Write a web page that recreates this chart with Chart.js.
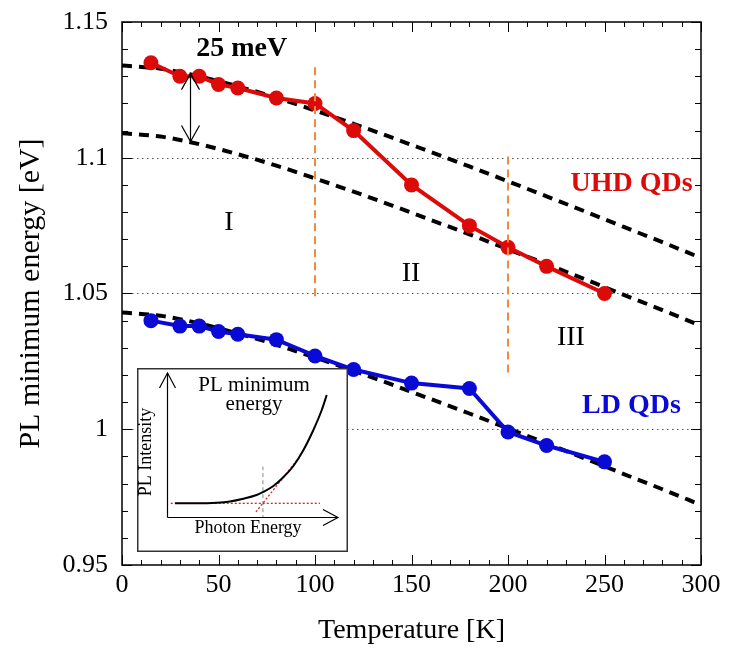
<!DOCTYPE html>
<html>
<head>
<meta charset="utf-8">
<script src="https://cdn.jsdelivr.net/npm/chart.js@4.4.0/dist/chart.umd.min.js"></script>
<style>
html, body { margin: 0; padding: 0; background: #fff; }
#wrap { position: relative; width: 729px; height: 649px; }
#main { position: absolute; left: 0; top: 0; }
#inset { position: absolute; left: 137px; top: 368px; }
</style>
</head>
<body>
<div id="wrap">
  <canvas id="main" width="729" height="649"></canvas>
  <canvas id="inset" width="211" height="184"></canvas>
</div>
<script>
// measured PL minimum energy (eV) vs temperature (K)
const temps = [15, 30, 40, 50, 60, 80, 100, 120, 150, 180, 200, 220, 250];
const uhdEnergy = [1.135, 1.130, 1.130, 1.127, 1.1257, 1.122, 1.120, 1.110, 1.090, 1.075, 1.067, 1.060, 1.050];
const ldEnergy = [1.040, 1.038, 1.038, 1.036, 1.035, 1.033, 1.027, 1.022, 1.017, 1.015, 0.999, 0.994, 0.988];

// Varshni fit curves, sampled every 20 K
const fitTemps = [0, 20, 40, 60, 80, 100, 120, 140, 160, 180, 200, 220, 240, 260, 280, 300];
const fitUpper = [1.134, 1.1328, 1.1300, 1.1263, 1.1221, 1.1174, 1.1125, 1.1074, 1.1021, 1.0968, 1.0913, 1.0858, 1.0802, 1.0745, 1.0689, 1.0631];
const fitLower = [1.109, 1.1078, 1.1050, 1.1013, 1.0971, 1.0924, 1.0875, 1.0824, 1.0771, 1.0718, 1.0663, 1.0608, 1.0552, 1.0495, 1.0439, 1.0381];
const fitLd = [1.043, 1.0418, 1.0390, 1.0353, 1.0311, 1.0264, 1.0215, 1.0164, 1.0111, 1.0058, 1.0003, 0.9948, 0.9892, 0.9835, 0.9779, 0.9721];

// region boundaries (orange dashed)
const regionTemps = [100, 200];
const regionTop = [1.1333, 1.1005];
const regionBottom = [1.048, 1.020];
const regionNames = ['I', 'II', 'III'];
const regionLabelT = [55.4, 149.8, 232.6];
const regionLabelE = [1.0762, 1.0574, 1.0339];

// 25 meV offset arrow
const gapTemp = 35;
const gapTop = 1.131;
const gapBottom = 1.106;

const gridLevels = [1.1, 1.05, 1.0];

// inset: sketch of the PL spectrum (arbitrary units)
const insetEnergy = [0.47, 1.74, 2.91, 3.68, 4.46, 5.24, 5.63, 6.22, 6.8, 7.39, 7.98, 8.56, 9.05, 9.34];
const insetIntensity = [0.95, 0.95, 0.99, 1.08, 1.27, 1.53, 1.74, 2.15, 2.76, 3.54, 4.65, 6.04, 7.43, 8.47];
const baseX = [0.22, 8.95];
const baseY = [0.95, 0.95];
const tangentX = [5.2, 7.6];
const tangentY = [0.35, 3.95];
const onsetX = [5.61, 5.61];
const onsetY = [-0.15, 3.5];

const serif = '"Liberation Serif", "Times New Roman", serif';
const red = '#dd0a0a';
const blue = '#0a0ad6';
const orange = '#f08a3c';

function pts(xs, ys) {
  return xs.map((x, i) => ({ x: x, y: ys[i] }));
}

function fitSet(label, ys) {
  return {
    label: label, data: pts(fitTemps, ys),
    borderColor: '#000', borderWidth: 4, borderDash: [10, 7],
    pointRadius: 0, cubicInterpolationMode: 'monotone', order: 3
  };
}

function regionSet(i) {
  return {
    label: 'boundary ' + regionTemps[i],
    data: [{ x: regionTemps[i], y: regionTop[i] }, { x: regionTemps[i], y: regionBottom[i] }],
    borderColor: orange, borderWidth: 2, borderDash: [8, 5], pointRadius: 0, order: 0
  };
}

function vArrowHead(ctx, x, y, dir) {
  ctx.beginPath();
  ctx.moveTo(x - 9, y + dir * 16);
  ctx.lineTo(x, y);
  ctx.lineTo(x + 9, y + dir * 16);
  ctx.stroke();
}

const dottedGrid = {
  id: 'dottedGrid',
  beforeDatasetsDraw(chart) {
    const { ctx, chartArea, scales } = chart;
    ctx.save();
    ctx.strokeStyle = '#555';
    ctx.lineWidth = 1;
    ctx.setLineDash([1.5, 3.5]);
    gridLevels.forEach(v => {
      const y = Math.round(scales.y.getPixelForValue(v)) + 0.5;
      ctx.beginPath();
      ctx.moveTo(chartArea.left, y);
      ctx.lineTo(chartArea.right, y);
      ctx.stroke();
    });
    ctx.restore();
  }
};

const frameTicks = {
  id: 'frameTicks',
  afterDraw(chart) {
    const { ctx, chartArea: a, scales } = chart;
    ctx.save();
    ctx.strokeStyle = '#000';
    ctx.lineWidth = 1;
    ctx.beginPath();
    for (let i = 0; i <= 30; i++) {
      const x = Math.round(scales.x.getPixelForValue(i * 10)) + 0.5;
      const len = i % 5 === 0 ? 10 : 5;
      ctx.moveTo(x, a.bottom); ctx.lineTo(x, a.bottom - len);
      ctx.moveTo(x, a.top); ctx.lineTo(x, a.top + len);
    }
    for (let i = 0; i <= 20; i++) {
      const y = Math.round(scales.y.getPixelForValue(0.95 + i * 0.01)) + 0.5;
      const len = i % 5 === 0 ? 10 : 6;
      ctx.moveTo(a.left, y); ctx.lineTo(a.left + len, y);
      ctx.moveTo(a.right, y); ctx.lineTo(a.right - len, y);
    }
    ctx.stroke();
    ctx.lineWidth = 1.5;
    ctx.strokeRect(a.left, a.top, a.right - a.left, a.bottom - a.top);
    ctx.restore();
  }
};

const annotations = {
  id: 'annotations',
  afterDatasetsDraw(chart) {
    const { ctx, scales } = chart;
    const sx = v => scales.x.getPixelForValue(v);
    const sy = v => scales.y.getPixelForValue(v);
    ctx.save();
    // 25 meV double arrow between the two UHD fits
    const ax = Math.round(sx(gapTemp)) + 0.5;
    ctx.strokeStyle = '#000';
    ctx.lineWidth = 1.2;
    ctx.beginPath();
    ctx.moveTo(ax, sy(gapTop));
    ctx.lineTo(ax, sy(gapBottom));
    ctx.stroke();
    vArrowHead(ctx, ax, sy(gapTop), 1);
    vArrowHead(ctx, ax, sy(gapBottom), -1);

    ctx.textAlign = 'center';
    ctx.textBaseline = 'middle';
    ctx.fillStyle = '#000';
    ctx.font = 'bold 28px ' + serif;
    ctx.fillText('25 meV', sx(62), sy(1.1402));

    ctx.font = '28px ' + serif;
    regionNames.forEach((n, i) => ctx.fillText(n, sx(regionLabelT[i]), sy(regionLabelE[i])));

    ctx.font = 'bold 28px ' + serif;
    ctx.fillStyle = red;
    ctx.fillText('UHD QDs', sx(264), sy(1.0905));
    ctx.fillStyle = blue;
    ctx.fillText('LD QDs', sx(264), sy(1.0087));
    ctx.restore();
  }
};

new Chart(document.getElementById('main'), {
  type: 'line',
  data: {
    datasets: [
      regionSet(0),
      regionSet(1),
      {
        label: 'UHD QDs', data: pts(temps, uhdEnergy),
        borderColor: red, backgroundColor: red, borderWidth: 4,
        pointRadius: 7.5, pointBorderWidth: 0, order: 1
      },
      {
        label: 'LD QDs', data: pts(temps, ldEnergy),
        borderColor: blue, backgroundColor: blue, borderWidth: 4,
        pointRadius: 7.5, pointBorderWidth: 0, order: 1
      },
      fitSet('fit UHD upper', fitUpper),
      fitSet('fit UHD lower', fitLower),
      fitSet('fit LD', fitLd)
    ]
  },
  options: {
    responsive: false,
    animation: false,
    events: [],
    layout: { padding: { top: 22, right: 28, left: 0, bottom: 0 } },
    plugins: { legend: { display: false }, tooltip: { enabled: false } },
    scales: {
      x: {
        type: 'linear', min: 0, max: 300,
        afterFit(s) { s.height = 84; },
        grid: { display: false, drawTicks: false },
        border: { display: false },
        ticks: { stepSize: 50, padding: 5, maxRotation: 0, color: '#000', font: { family: serif, size: 26 } },
        title: { display: true, text: 'Temperature [K]', color: '#000', font: { family: serif, size: 28 }, padding: { top: 0, bottom: 2 } }
      },
      y: {
        type: 'linear', min: 0.95, max: 1.15,
        afterFit(s) { s.width = 122; s.paddingTop = 0; s.paddingBottom = 0; },
        grid: { display: false, drawTicks: false },
        border: { display: false },
        ticks: {
          stepSize: 0.05, padding: 14, color: '#000', font: { family: serif, size: 26 },
          callback: v => String(Number(v.toFixed(2)))
        },
        title: { display: true, text: 'PL minimum energy [eV]', color: '#000', font: { family: serif, size: 30 }, padding: { top: 13, bottom: 0 } }
      }
    }
  },
  plugins: [dottedGrid, frameTicks, annotations]
});

// inset sketch: onset of the PL spectrum
const insetDecor = {
  id: 'insetDecor',
  beforeDraw(chart) {
    const { ctx, width, height } = chart;
    ctx.save();
    ctx.fillStyle = '#fff';
    ctx.fillRect(0, 0, width, height);
    ctx.restore();
  },
  afterDraw(chart) {
    const { ctx, width, height, chartArea: a } = chart;
    ctx.save();
    ctx.strokeStyle = '#333';
    ctx.lineWidth = 1.5;
    ctx.strokeRect(0.75, 0.75, width - 1.5, height - 1.5);

    ctx.strokeStyle = '#000';
    ctx.lineWidth = 1.2;
    const ox = a.left + 0.5, oy = a.bottom + 0.5;
    ctx.beginPath();
    ctx.moveTo(ox, oy); ctx.lineTo(ox, a.top);
    ctx.moveTo(ox, oy); ctx.lineTo(a.right, oy);
    ctx.stroke();
    ctx.beginPath();
    ctx.moveTo(ox - 8, a.top + 15); ctx.lineTo(ox, a.top); ctx.lineTo(ox + 8, a.top + 15);
    ctx.moveTo(a.right - 15, oy - 8); ctx.lineTo(a.right, oy); ctx.lineTo(a.right - 15, oy + 8);
    ctx.stroke();

    ctx.fillStyle = '#000';
    ctx.textAlign = 'center';
    ctx.textBaseline = 'middle';
    ctx.font = '21px ' + serif;
    ctx.fillText('PL minimum', 117, 17);
    ctx.fillText('energy', 117, 36);
    ctx.font = '18px ' + serif;
    ctx.fillText('Photon Energy', 111, 160);
    ctx.translate(9, 84);
    ctx.rotate(-Math.PI / 2);
    ctx.fillText('PL Intensity', 0, 0);
    ctx.restore();
  }
};

new Chart(document.getElementById('inset'), {
  type: 'line',
  data: {
    datasets: [
      {
        label: 'spectrum', data: pts(insetEnergy, insetIntensity),
        borderColor: '#000', borderWidth: 2, pointRadius: 0, cubicInterpolationMode: 'monotone'
      },
      {
        label: 'background', data: pts(baseX, baseY),
        borderColor: '#e02020', borderWidth: 1.3, borderDash: [2, 2], pointRadius: 0
      },
      {
        label: 'tangent', data: pts(tangentX, tangentY),
        borderColor: '#e02020', borderWidth: 1.3, borderDash: [2, 2], pointRadius: 0
      },
      {
        label: 'onset', data: pts(onsetX, onsetY),
        borderColor: '#888', borderWidth: 1, borderDash: [4, 3], pointRadius: 0
      }
    ]
  },
  options: {
    responsive: false,
    animation: false,
    events: [],
    layout: { padding: { left: 30, right: 10, top: 5, bottom: 35 } },
    plugins: { legend: { display: false }, tooltip: { enabled: false } },
    scales: {
      x: { type: 'linear', display: false, min: 0, max: 10 },
      y: { type: 'linear', display: false, min: 0, max: 10 }
    }
  },
  plugins: [insetDecor]
});
</script>
</body>
</html>
